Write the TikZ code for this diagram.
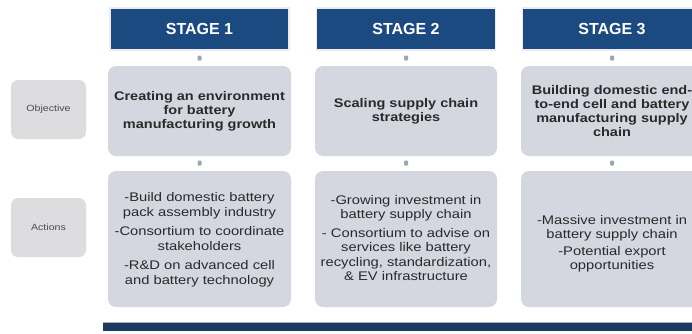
\documentclass[tikz,border=0pt]{standalone}
\usepackage{fontspec}
\setmainfont{Liberation Sans}
\newfontfamily\widesans[FakeStretch=1.18]{Liberation Sans}
\newfontfamily\widebold[FakeStretch=1.16]{Liberation Sans Bold}
\definecolor{navy}{HTML}{1B4A80}
\definecolor{barnavy}{HTML}{1D3A62}
\definecolor{boxgrey}{HTML}{D4D7DF}
\definecolor{labgrey}{HTML}{DDDDDF}
\definecolor{dotgrey}{HTML}{9CA4B6}
\definecolor{txt}{HTML}{2A2A2A}
\begin{document}
\begin{tikzpicture}[x=1pt,y=-1pt,
  header/.style={fill=navy,draw=white!85!gray,line width=1.2pt,text=white,font=\bfseries\fontsize{16}{16}\selectfont,inner sep=0pt},
  objbox/.style={fill=boxgrey,rounded corners=8pt,align=center,text=txt,font=\widebold\fontsize{12.5}{14}\selectfont,inner sep=0pt},
  actbox/.style={fill=boxgrey,rounded corners=8pt,align=center,text=txt,font=\widesans\fontsize{12.5}{14.5}\selectfont,inner sep=0pt},
  labbox/.style={fill=labgrey,rounded corners=7pt,text=black!70,font=\widesans\fontsize{9}{10}\selectfont,inner sep=0pt},
  dotmark/.style={fill=dotgrey,rounded corners=1pt,minimum width=4pt,minimum height=5pt,inner sep=0pt}
]
\useasboundingbox (0,0) rectangle (692,333);
\fill[white] (0,0) rectangle (692,333);
% headers
\node[header,minimum width=179pt,minimum height=42pt] (h1) at (199.5,29) {STAGE 1};
\node[header,minimum width=179pt,minimum height=42pt] (h2) at (406,29) {STAGE 2};
\node[header,minimum width=179pt,minimum height=42pt] (h3) at (612,29) {STAGE 3};
% dots
\node[dotmark] (d1a) at (199.5,58) {};
\node[dotmark] (d2a) at (406,58) {};
\node[dotmark] (d3a) at (612,58) {};
% objective boxes
\node[objbox,minimum width=183pt,minimum height=90pt] (o1) at (199.5,111) {};
\node[objbox,minimum width=182pt,minimum height=90pt] (o2) at (406,111) {};
\node[objbox,minimum width=182pt,minimum height=90pt] (o3) at (612,111) {};
\node[objbox,fill=none] (o1t) at (199.5,111) {Creating an environment\\for battery\\manufacturing growth};
\node[objbox,fill=none] (o2t) at (406,111.5) {Scaling supply chain\\strategies};
\node[objbox,fill=none] (o3t) at (612,111) {Building domestic end-\\to-end cell and battery\\manufacturing supply\\chain};
% dots 2
\node[dotmark] (d1b) at (199.5,163) {};
\node[dotmark] (d2b) at (406,163) {};
\node[dotmark] (d3b) at (612,163) {};
% action boxes
\node[actbox,minimum width=183pt,minimum height=136pt] (a1) at (199.5,239) {};
\node[actbox,minimum width=182pt,minimum height=136pt] (a2) at (406,239) {};
\node[actbox,minimum width=182pt,minimum height=136pt] (a3) at (612,239) {};
\node[actbox,fill=none] (a1t) at (199.5,240) {-Build domestic battery\\pack assembly industry\\[5pt]-Consortium to coordinate\\stakeholders\\[5pt]-R\&D on advanced cell\\and battery technology};
\node[actbox,fill=none] (a2t) at (406,238) {-Growing investment in\\battery supply chain\\[4pt]- Consortium to advise on\\services like battery\\recycling, standardization,\\\& EV infrastructure};
\node[actbox,fill=none] (a3t) at (612,244) {-Massive investment in\\battery supply chain\\[2pt]-Potential export\\opportunities};
% labels
\node[labbox,minimum width=75pt,minimum height=59pt] (lo) at (48.5,109.5) {Objective};
\node[labbox,minimum width=75pt,minimum height=59pt] (la) at (48.5,227.5) {Actions};
% bottom bar
\fill[barnavy] (103,323) rectangle (700,331);
\draw[gray!60,line width=0.6pt] (103,322.5) -- (700,322.5);
\end{tikzpicture}
\end{document}
